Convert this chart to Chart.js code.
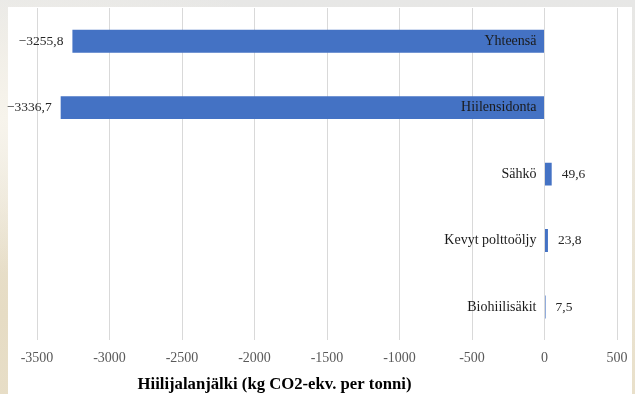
<!DOCTYPE html>
<html>
<head>
<meta charset="utf-8">
<script src="https://cdn.jsdelivr.net/npm/chart.js@4"></script>
<style>
  html, body { margin: 0; padding: 0; width: 635px; height: 394px; overflow: hidden; }
  body {
    position: relative;
    background:
      radial-gradient(ellipse at 0% 30%, #f7f4ec 0%, rgba(247,244,236,0) 40%),
      radial-gradient(ellipse at 0% 80%, #e6dcc4 0%, rgba(230,220,196,0) 45%),
      linear-gradient(to bottom, #e7e7e6 0%, #ece8de 35%, #e9e0ca 100%);
  }
  #card { position: absolute; left: 8px; top: 7px; width: 624px; height: 387px; background: #ffffff; }
  #chart { position: absolute; left: 0; top: 0; display: block; }
</style>
</head>
<body>
<div id="card"></div>
<canvas id="chart" width="635" height="394"></canvas>
<script>
// Carbon footprint components, kg CO2-eq per tonne
const categories = ['Yhteensä', 'Hiilensidonta', 'Sähkö', 'Kevyt polttoöljy', 'Biohiilisäkit'];
const values = [-3255.8, -3336.7, 49.6, 23.8, 7.5];
const xTicks = [-3500, -3000, -2500, -2000, -1500, -1000, -500, 0, 500];
const axisTitle = 'Hiilijalanjälki (kg CO2-ekv. per tonni)';

const SERIF = '"Liberation Serif", "Times New Roman", serif';

// Finnish number format with a true minus sign
function fmt(v) {
  return v.toFixed(1).replace('.', ',').replace('-', '\u2212');
}

// Category names sit just left of the zero line; values sit at the bar ends
const barLabels = {
  id: 'barLabels',
  afterDatasetsDraw(chart) {
    const ctx = chart.ctx;
    const xs = chart.scales.x;
    const zero = xs.getPixelForValue(0);
    const meta = chart.getDatasetMeta(0);
    ctx.save();
    ctx.textBaseline = 'middle';
    meta.data.forEach((bar, i) => {
      const v = values[i];
      ctx.font = '14px ' + SERIF;
      ctx.fillStyle = '#1a1a1a';
      ctx.textAlign = 'right';
      ctx.fillText(categories[i], zero - 8, bar.y);
      ctx.font = '13.5px ' + SERIF;
      ctx.fillStyle = '#262626';
      if (v < 0) {
        ctx.textAlign = 'right';
        ctx.fillText(fmt(v), bar.x - 9, bar.y);
      } else {
        ctx.textAlign = 'left';
        ctx.fillText(fmt(v), bar.x + 10, bar.y);
      }
    });
    ctx.restore();
  }
};

// Axis title, drawn under the tick labels
const axisTitlePlugin = {
  id: 'axisTitle',
  afterDraw(chart) {
    const ctx = chart.ctx;
    const a = chart.chartArea;
    ctx.save();
    ctx.font = 'bold 16.7px ' + SERIF;
    ctx.fillStyle = '#000000';
    ctx.textAlign = 'center';
    ctx.textBaseline = 'middle';
    ctx.fillText(axisTitle, 274.5, 385);
    ctx.restore();
  }
};

new Chart(document.getElementById('chart'), {
  type: 'bar',
  data: {
    labels: categories,
    datasets: [{
      data: values,
      backgroundColor: '#4472C4',
      borderWidth: 0,
      categoryPercentage: 1.0,
      barPercentage: 0.345
    }]
  },
  options: {
    indexAxis: 'y',
    responsive: false,
    maintainAspectRatio: false,
    devicePixelRatio: 1,
    animation: false,
    layout: { padding: { left: 37, right: 18, top: 8, bottom: 17 } },
    plugins: { legend: { display: false }, tooltip: { enabled: false } },
    scales: {
      x: {
        min: xTicks[0],
        max: xTicks[xTicks.length - 1],
        afterBuildTicks(scale) { scale.ticks = xTicks.map(v => ({ value: v })); },
        afterFit(scale) { scale.paddingLeft = 0; scale.paddingRight = 0; },
        grid: { color: '#d9d9d9', lineWidth: 1, drawTicks: false },
        border: { display: false },
        ticks: {
          padding: 10,
          color: '#595959',
          font: { family: SERIF, size: 14 },
          callback: (v) => String(v)
        }
      },
      y: {
        display: false,
        grid: { display: false }
      }
    }
  },
  plugins: [barLabels, axisTitlePlugin]
});
</script>
</body>
</html>
